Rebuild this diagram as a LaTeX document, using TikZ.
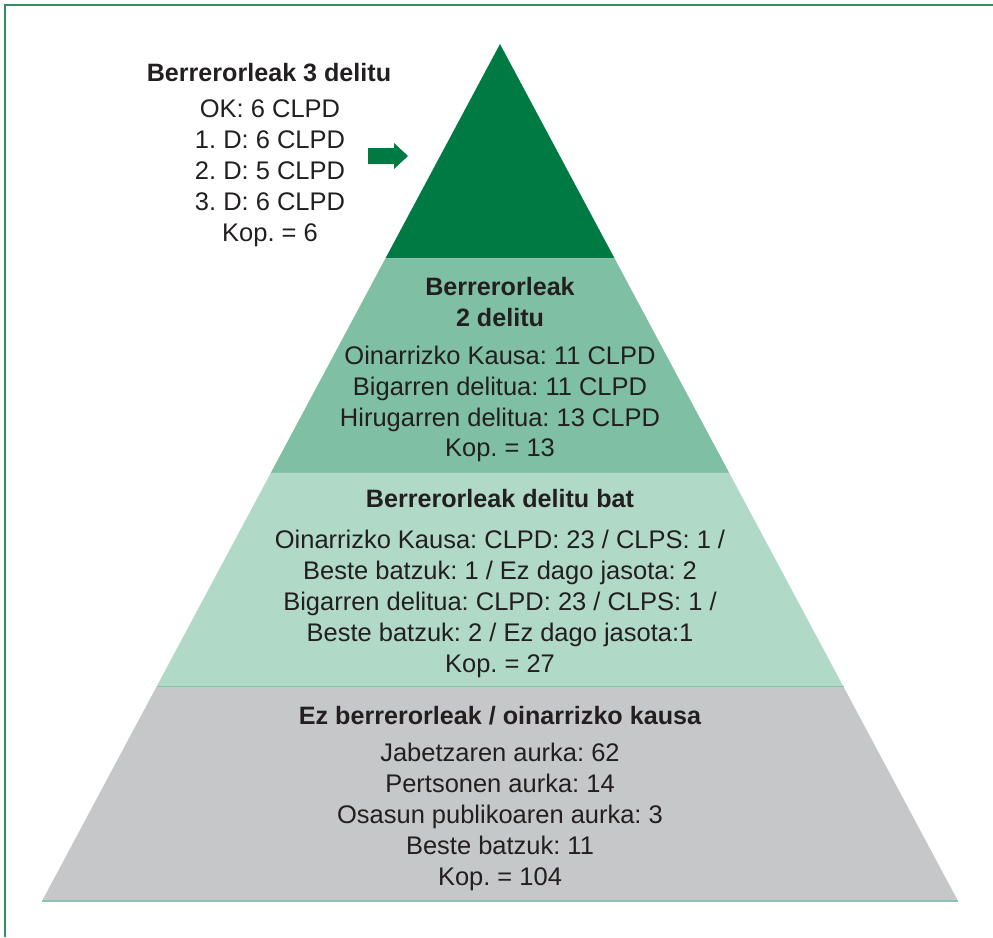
\documentclass[tikz,border=0pt]{standalone}
\usepackage{fontspec}
\setmainfont{Liberation Sans}
\usetikzlibrary{calc}

\definecolor{darkgreen}{HTML}{007A43}
\definecolor{midgreen}{HTML}{7FBFA3}
\definecolor{lightgreen}{HTML}{B1D9C7}
\definecolor{layergray}{HTML}{C6C7C9}
\definecolor{framegreen}{HTML}{2F9163}
\definecolor{edgegreen}{HTML}{8CC3AB}
\definecolor{textgray}{HTML}{231F20}

\begin{document}
\frenchspacing
\begin{tikzpicture}[
    x=0.02cm, y=-0.02cm,
    title/.style={font=\fontsize{14.3}{17.6}\selectfont\bfseries, text=textgray, align=center, inner sep=0},
    body/.style={font=\fontsize{14.5}{17.6}\selectfont, text=textgray, align=center, inner sep=0},
    edge/.style={draw=edgegreen, line width=0.6pt}]
    \useasboundingbox (0,0) rectangle (993,937);

    % Frame
    \draw[framegreen, line width=0.035cm] (5,937) -- (5,5) -- (993,5);

    % Pyramid corners
    \coordinate (top) at (500,44);
    \coordinate (bl) at (42,901);
    \coordinate (br) at (958,901);
    \coordinate (l1) at ($(top)!0.25!(bl)$);
    \coordinate (r1) at ($(top)!0.25!(br)$);
    \coordinate (l2) at ($(top)!0.5!(bl)$);
    \coordinate (r2) at ($(top)!0.5!(br)$);
    \coordinate (l3) at ($(top)!0.75!(bl)$);
    \coordinate (r3) at ($(top)!0.75!(br)$);

    % Layers
    \fill[darkgreen] (top) -- (r1) -- (l1) -- cycle;
    \fill[midgreen] (l1) -- (r1) -- (r2) -- (l2) -- cycle;
    \fill[lightgreen] (l2) -- (r2) -- (r3) -- (l3) -- cycle;
    \fill[layergray] (l3) -- (r3) -- (br) -- (bl) -- cycle;
    \draw[edge] (l2) -- (r2);
    \draw[edge] (l3) -- (r3);
    \draw[edge] (bl) -- (br);

    % Block arrow
    \fill[darkgreen] (368,148) -- (394,148) -- (394,143) -- (408,156)
        -- (394,169) -- (394,164) -- (368,164) -- cycle;

    % Nodes
    \node[title] (t0) at (269,73) {Berrerorleak 3 delitu};
    \node[body] (b0) at (270,173) {OK: 6 CLPD\\1. D: 6 CLPD\\2. D: 5 CLPD\\3. D: 6 CLPD\\Kop. = 6};

    \node[title] (t1) at (500,302) {Berrerorleak\\2 delitu};
    \node[body] (b1) at (500,404) {Oinarrizko Kausa: 11 CLPD\\Bigarren delitua: 11 CLPD\\Hirugarren delitua: 13 CLPD\\Kop. = 13};

    \node[title] (t2) at (500,499) {Berrerorleak delitu bat};
    \node[body] (b2) at (500,604) {Oinarrizko Kausa: CLPD: 23 / CLPS: 1 /\\Beste batzuk: 1 / Ez dago jasota: 2\\Bigarren delitua: CLPD: 23 / CLPS: 1 /\\Beste batzuk: 2 / Ez dago jasota:1\\Kop. = 27};

    \node[title] (t3) at (500,716) {Ez berrerorleak / oinarrizko kausa};
    \node[body] (b3) at (500,817) {Jabetzaren aurka: 62\\Pertsonen aurka: 14\\Osasun publikoaren aurka: 3\\Beste batzuk: 11\\Kop. = 104};
\end{tikzpicture}
\end{document}
